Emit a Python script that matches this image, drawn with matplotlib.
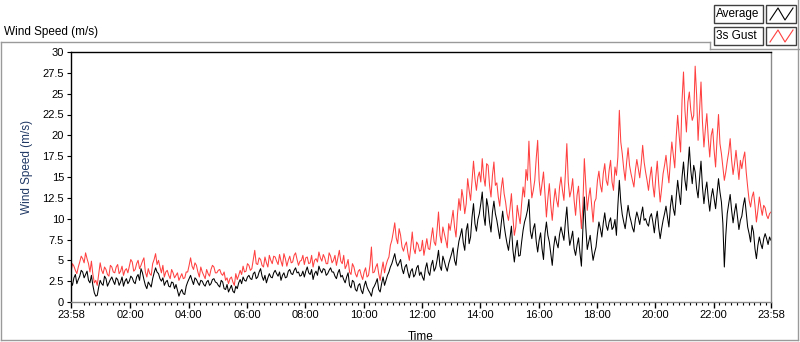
import numpy as np
import matplotlib
matplotlib.use("Agg")
import matplotlib.pyplot as plt
from matplotlib.lines import Line2D
from matplotlib.patches import Rectangle

# wind speed (m/s), readings on the 6-minute marks from 23:58 to 23:58 next day
avg = [
    2.4, 2.9, 2.2, 3.1, 3.6, 3.3, 2.6, 3.2, 1.1, 0.8,
    2.6, 2.0, 2.8, 2.3, 3.0, 2.1, 2.7, 2.4, 1.9, 2.8,
    2.5, 2.9, 2.2, 3.3, 4.0, 2.7, 1.6, 2.1, 2.8, 4.1,
    3.4, 2.5, 2.0, 2.6, 1.8, 2.3, 2.1, 0.7, 1.5, 0.9,
    2.4, 3.2, 2.1, 2.7, 2.0, 2.5, 1.9, 2.6, 2.2, 2.8,
    2.3, 1.8, 2.4, 1.5, 1.2, 2.0, 1.1, 1.6, 2.7, 3.0,
    2.5, 3.2, 2.7, 3.6, 3.0, 4.0, 2.6, 2.3, 3.4, 2.9,
    3.8, 3.1, 2.6, 3.5, 3.0, 3.9, 3.3, 4.1, 3.6, 3.2,
    3.0, 4.2, 3.3, 2.7, 3.7, 4.3, 3.5, 3.9, 3.4, 4.1,
    3.6, 2.8, 3.9, 3.2, 2.3, 3.5, 1.7, 2.4, 1.3, 2.2,
    1.0, 2.5, 1.4, 0.7, 1.9, 2.8, 1.2, 3.0, 2.6, 3.6,
    4.6, 5.8, 4.3, 5.1, 3.4, 4.5, 2.9, 4.0, 3.3, 4.4,
    3.6, 2.6, 4.7, 3.2, 5.0, 4.1, 6.2, 3.8, 4.9, 3.7,
    5.2, 6.5, 4.4, 7.3, 8.8, 6.2, 9.4, 7.8, 11.8, 8.5,
    10.6, 13.2, 9.2, 11.4, 8.4, 12.1, 9.8, 7.6, 10.9, 8.0,
    6.2, 9.1, 4.8, 7.4, 5.6, 8.6, 10.2, 12.3, 7.6, 9.4,
    6.0, 8.3, 5.1, 9.6, 7.2, 4.4, 7.9, 6.5, 9.0, 7.4,
    11.4, 6.8, 8.5, 5.6, 7.7, 4.3, 12.6, 6.3, 8.0, 5.0,
    6.6, 9.6, 7.8, 10.7, 8.6, 10.1, 9.0, 8.0, 14.6, 10.5,
    8.8, 11.6, 9.7, 8.4, 10.8, 9.3, 11.4, 10.0, 9.1, 10.6,
    8.3, 10.9, 7.6, 9.8, 11.5, 9.0, 12.8, 10.4, 14.6, 11.7,
    16.8, 13.4, 18.6, 14.2, 15.6, 12.5, 16.9, 11.8, 14.4, 10.9,
    13.6, 11.2, 14.8, 12.0, 4.2, 10.6, 12.9, 9.5, 11.8, 8.7,
    10.3, 12.5, 9.0, 7.2, 8.4, 5.2, 7.8, 6.4, 8.2, 6.9,
    7.4,
]
# readings 3 minutes after each of the above
avg_mid = [
    2.0, 3.3, 2.7, 3.8, 2.9, 3.7, 2.3, 2.0, 0.7, 1.8,
    2.2, 3.1, 1.9, 2.7, 2.5, 2.9, 2.0, 3.0, 2.5, 2.2,
    3.1, 2.4, 3.0, 2.6, 3.5, 2.0, 2.4, 1.8, 3.5, 3.6,
    2.8, 2.9, 2.4, 1.9, 2.4, 1.6, 1.4, 1.2, 1.0, 1.9,
    2.8, 2.6, 2.9, 2.3, 2.6, 2.1, 2.4, 2.0, 2.7, 2.4,
    2.0, 2.6, 1.6, 2.1, 1.6, 1.3, 1.9, 2.3, 2.2, 2.6,
    3.0, 2.8, 3.4, 2.8, 3.6, 3.1, 3.2, 2.9, 3.0, 3.5,
    3.4, 3.6, 3.2, 2.9, 3.7, 3.4, 3.8, 3.5, 3.1, 3.7,
    3.7, 3.5, 3.9, 3.4, 3.2, 3.8, 4.0, 3.2, 3.8, 3.6,
    3.1, 3.5, 3.0, 2.7, 3.0, 2.0, 2.6, 1.5, 2.0, 1.4,
    1.9, 1.8, 1.1, 1.6, 2.3, 1.5, 2.2, 2.0, 3.2, 4.2,
    5.2, 4.8, 4.7, 4.0, 4.2, 3.6, 3.7, 3.0, 4.1, 3.2,
    3.0, 4.0, 3.6, 4.4, 3.7, 5.0, 4.3, 5.5, 4.2, 4.6,
    5.8, 5.0, 6.1, 8.0, 7.1, 8.6, 7.0, 10.2, 9.4, 9.9,
    11.8, 10.4, 12.4, 9.6, 10.8, 10.6, 8.7, 9.4, 9.2, 7.0,
    7.6, 6.3, 6.4, 5.5, 7.2, 9.6, 11.0, 8.5, 8.8, 7.3,
    7.4, 6.4, 8.2, 8.0, 5.8, 6.6, 7.1, 8.1, 8.2, 9.6,
    8.6, 7.6, 6.4, 6.8, 5.9, 8.8, 9.0, 7.2, 6.4, 5.9,
    8.2, 8.8, 9.5, 9.2, 9.6, 8.7, 9.9, 11.6, 12.0, 9.6,
    10.2, 10.4, 8.9, 9.9, 10.1, 10.5, 9.8, 9.4, 10.2, 9.6,
    9.9, 8.9, 8.8, 10.6, 10.2, 11.4, 11.2, 12.6, 13.0, 15.0,
    14.6, 16.0, 15.8, 16.4, 13.6, 14.8, 13.8, 13.4, 12.4, 12.6,
    12.4, 13.0, 13.2, 9.4, 8.0, 11.8, 11.0, 10.8, 10.2, 9.8,
    11.6, 10.8, 8.2, 9.2, 6.4, 6.8, 7.0, 7.6, 7.6, 7.8,
]

gust = [
    3.6, 4.3, 3.4, 4.8, 5.2, 5.9, 4.6, 4.9, 2.3, 2.0,
    4.7, 3.4, 3.9, 3.1, 4.2, 3.5, 4.5, 3.7, 3.2, 4.0,
    4.3, 4.8, 3.9, 5.0, 4.4, 5.3, 3.0, 3.4, 4.6, 5.8,
    5.0, 3.5, 3.0, 3.8, 2.8, 3.5, 3.2, 2.6, 3.4, 2.9,
    3.6, 5.3, 3.9, 4.4, 3.0, 3.6, 2.8, 3.4, 3.9, 4.2,
    3.5, 3.9, 3.2, 2.6, 2.2, 3.0, 2.0, 2.7, 3.8, 4.3,
    3.7, 4.4, 4.0, 6.2, 4.5, 5.1, 4.2, 4.7, 5.6, 4.6,
    5.4, 4.5, 4.9, 5.8, 4.3, 5.5, 4.8, 5.9, 4.4, 5.0,
    4.5, 5.4, 4.7, 4.2, 5.2, 6.0, 4.9, 5.3, 4.6, 5.5,
    5.0, 4.4, 6.2, 4.6, 4.0, 5.1, 3.3, 4.2, 3.0, 3.9,
    2.7, 4.1, 3.2, 6.6, 3.6, 4.6, 2.6, 4.8, 4.4, 5.4,
    7.4, 9.5, 7.0, 8.0, 6.1, 7.2, 5.0, 8.4, 5.8, 6.9,
    6.2, 5.6, 7.6, 6.3, 8.9, 6.8, 10.8, 7.1, 8.2, 6.5,
    8.6, 11.0, 7.8, 12.4, 13.5, 10.6, 14.8, 12.2, 16.9, 13.4,
    15.6, 17.2, 13.9, 16.4, 12.6, 16.8, 14.3, 11.5, 14.9, 12.0,
    9.8, 13.0, 8.0, 11.6, 9.4, 13.8, 15.9, 19.3, 12.5, 14.6,
    19.4, 12.8, 15.6, 10.2, 14.2, 9.8, 13.6, 11.4, 15.0, 12.2,
    19.0, 12.6, 14.8, 10.4, 13.9, 8.8, 17.2, 11.0, 13.7, 9.6,
    12.4, 15.7, 13.2, 16.6, 14.0, 17.0, 13.4, 15.2, 23.0, 17.8,
    14.6, 18.5, 15.4, 13.8, 17.1, 14.9, 18.8, 15.6, 13.4, 16.2,
    12.6, 16.9, 12.0, 15.4, 17.6, 14.3, 19.2, 16.1, 22.4, 18.0,
    27.6, 20.4, 25.2, 21.8, 28.3, 19.4, 26.4, 18.6, 22.6, 17.4,
    20.8, 16.2, 22.5, 17.8, 14.6, 16.9, 19.6, 15.3, 18.2, 14.7,
    16.0, 18.0, 13.8, 11.4, 13.2, 9.6, 12.6, 10.4, 11.3, 10.0,
    10.8,
]
gust_mid = [
    4.6, 3.8, 4.2, 5.5, 4.7, 5.2, 3.6, 3.3, 2.6, 3.4,
    3.8, 4.2, 3.3, 4.4, 3.6, 4.2, 3.4, 4.3, 3.8, 3.5,
    5.1, 3.7, 4.6, 4.0, 4.9, 3.6, 4.0, 3.2, 5.1, 4.5,
    4.2, 4.4, 3.6, 3.2, 3.9, 2.9, 3.5, 3.0, 2.8, 3.6,
    4.4, 4.3, 4.7, 3.6, 4.2, 3.2, 3.9, 3.1, 4.4, 3.5,
    3.8, 3.4, 3.6, 2.9, 2.8, 2.4, 3.4, 3.2, 3.3, 3.6,
    4.6, 3.8, 5.1, 4.6, 5.3, 4.4, 5.4, 4.2, 5.0, 5.5,
    4.9, 5.7, 4.3, 5.2, 5.0, 4.7, 5.6, 5.1, 4.9, 5.6,
    5.3, 4.6, 5.6, 5.0, 4.8, 5.3, 5.7, 4.6, 5.9, 4.7,
    5.6, 5.3, 4.9, 5.6, 4.4, 3.6, 4.6, 3.4, 3.7, 3.2,
    3.6, 3.0, 4.4, 3.5, 4.2, 3.4, 3.8, 3.5, 5.0, 6.8,
    8.4, 7.7, 8.8, 6.6, 6.8, 5.9, 6.6, 6.4, 7.2, 6.1,
    7.4, 6.6, 6.4, 7.7, 7.2, 8.6, 8.0, 9.0, 7.4, 9.4,
    9.8, 9.0, 10.5, 11.0, 12.4, 11.8, 13.4, 14.6, 14.8, 15.0,
    14.4, 15.0, 16.6, 14.0, 15.2, 14.0, 12.6, 13.6, 13.0, 10.6,
    11.2, 10.2, 9.0, 10.4, 11.8, 12.6, 14.6, 15.0, 13.4, 17.2,
    14.6, 14.2, 13.0, 12.4, 11.6, 12.0, 12.2, 13.8, 13.4, 15.4,
    14.4, 13.4, 12.2, 12.8, 11.2, 11.6, 14.2, 12.6, 11.6, 12.0,
    14.6, 14.0, 15.4, 14.6, 15.8, 14.4, 16.2, 17.4, 19.2, 16.0,
    16.8, 16.4, 14.6, 15.8, 16.0, 16.6, 16.8, 14.6, 15.0, 14.0,
    15.0, 14.2, 13.6, 16.4, 15.8, 17.0, 17.6, 19.8, 20.0, 24.2,
    23.0, 24.0, 23.0, 22.4, 24.8, 23.0, 21.6, 20.8, 19.6, 20.0,
    18.2, 19.6, 19.0, 16.2, 15.6, 18.0, 17.0, 16.6, 16.4, 17.0,
    17.2, 15.6, 12.2, 12.6, 11.6, 11.0, 11.4, 11.6, 10.4, 10.6,
]

xlabels = ["23:58", "02:00", "04:00", "06:00", "08:00", "10:00", "12:00",
           "14:00", "16:00", "18:00", "20:00", "22:00", "23:58"]
ylabels = ["0", "2.5", "5", "7.5", "10", "12.5", "15", "17.5", "20",
           "22.5", "25", "27.5", "30"]
series_names = ["Average", "3s Gust"]

RED = "#ff4040"
W, H = 800, 342
plt.rcParams["font.family"] = ["Liberation Sans", "DejaVu Sans"]
plt.rcParams["font.size"] = 8


def fx(px):
    return px / W


def fy(py):
    return 1 - py / H


def merge(on_mark, between):
    out = []
    for a, b in zip(on_mark, between):
        out += [a, b]
    return out + on_mark[len(between):]


avg_all = merge(avg, avg_mid)
gust_all = merge(gust, gust_mid)

fig = plt.figure(figsize=(8, 3.42), dpi=100)
ax = fig.add_axes([fx(71), fy(302), fx(771) - fx(71), fy(52) - fy(302)])

t = np.linspace(0, 24, len(avg_all))
ax.plot(t, gust_all, color=RED, lw=0.75)
ax.plot(t, avg_all, color="black", lw=0.75)

ax.set_xlim(0, 24)
ax.set_ylim(0, 30)

off = 2 / 60  # axis starts at 23:58
xticks = [0] + [2 * i + off for i in range(1, 12)] + [24]
ax.set_xticks(xticks)
ax.set_xticklabels(xlabels)
minor = [off + 0.2 * k for k in range(2, 120) if (k % 10) != 0]
ax.set_xticks(minor, minor=True)
ax.set_yticks([2.5 * i for i in range(len(ylabels))])
ax.set_yticklabels(ylabels)

ax.tick_params(axis="x", which="major", length=4, width=1, pad=2, colors="black")
ax.tick_params(axis="x", which="minor", length=2.5, width=0.8)
ax.tick_params(axis="y", length=3, width=0.8, pad=2)

for s in ["top", "left"]:
    ax.spines[s].set_color("black")
    ax.spines[s].set_linewidth(1)
for s in ["bottom", "right"]:
    ax.spines[s].set_color("#8a8a8a")
    ax.spines[s].set_linewidth(1)

ax.set_xlabel("Time", fontsize=8.5)
ax.xaxis.set_label_coords(0.5, -0.115)
ax.set_ylabel("Wind Speed (m/s)", fontsize=8.5, color="#1f3864")
ax.yaxis.set_label_coords(-0.054, 0.54)

# outer frame of the graph control
gray = "#9a9a9a"
fig.add_artist(Line2D([fx(0.5), fx(710)], [fy(42), fy(42)], color=gray, lw=1))
fig.add_artist(Line2D([fx(710), fx(710)], [fy(42), fy(49)], color=gray, lw=1))
fig.add_artist(Line2D([fx(710), fx(800)], [fy(49), fy(49)], color=gray, lw=1))
fig.add_artist(Line2D([fx(0.5), fx(0.5)], [fy(42), fy(340)], color=gray, lw=1))
fig.add_artist(Line2D([fx(0.5), fx(797.5)], [fy(340), fy(340)], color=gray, lw=1))
fig.add_artist(Line2D([fx(797.5), fx(797.5)], [fy(0), fy(340)], color=gray, lw=1))

fig.text(fx(4), fy(32), "Wind Speed (m/s)", fontsize=8.5, va="center", ha="left")

# legend
for i, (name, col) in enumerate(zip(series_names, ["black", RED])):
    top = 5 + i * 22
    fig.add_artist(Rectangle((fx(714), fy(top + 18)), fx(49), fy(0) - fy(18),
                             facecolor="white", edgecolor="#404040", lw=1))
    fig.text(fx(716), fy(top + 9), name, fontsize=8.5, va="center", ha="left")
    fig.add_artist(Rectangle((fx(766), fy(top + 18)), fx(30), fy(0) - fy(18),
                             facecolor="white", edgecolor="#404040", lw=1))
    zx = [770, 778, 785, 793]
    zy = [top + 15, top + 3, top + 15, top + 3]
    fig.add_artist(Line2D([fx(v) for v in zx], [fy(v) for v in zy], color=col, lw=0.8))

fig.savefig("out.png", dpi=100)
